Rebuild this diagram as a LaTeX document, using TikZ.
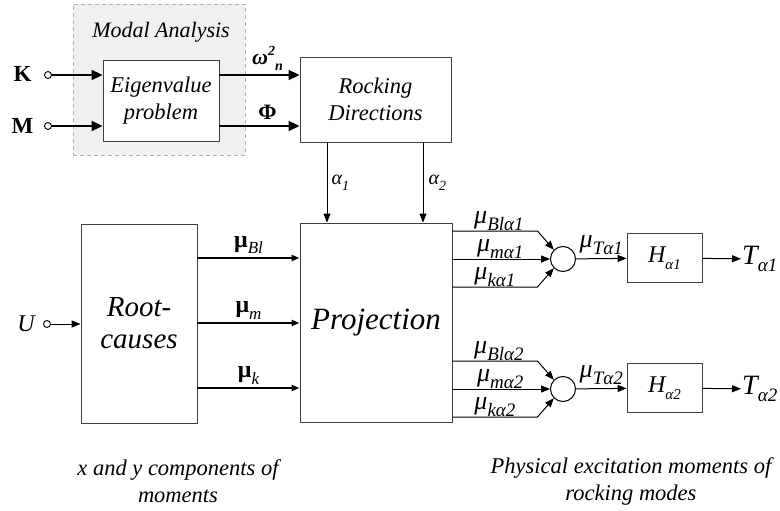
\documentclass[tikz,border=0pt]{standalone}
\usepackage{fontspec}
\setmainfont{Liberation Serif}
\usetikzlibrary{arrows.meta,calc}
\newcommand{\sbs}[2]{\raisebox{-0.28em}{\fontsize{#1}{#1}\selectfont #2}}
\newcommand{\sps}[2]{\raisebox{0.42em}{\fontsize{#1}{#1}\selectfont #2}}
\newcommand{\fs}[1]{\fontsize{#1}{#1}\selectfont}
\tikzset{
  box/.style={draw=black!75, line width=0.9pt, fill=white, align=center, inner sep=0pt},
  modalbox/.style={draw=gray!60, dashed, dash pattern=on 4pt off 3pt, line width=0.9pt, fill=gray!12, inner sep=0pt, minimum width=172pt, minimum height=151pt},
  thk/.style={line width=2pt, -{Triangle[length=11pt,width=10pt]}},
  thkb/.style={line width=2pt, -{Triangle[length=8pt,width=6pt]}},
  thn/.style={line width=1pt, -{Triangle[length=9pt,width=7pt]}},
  io/.style={circle, draw, line width=0.9pt, inner sep=0pt, minimum size=7pt, fill=white},
  sumc/.style={circle, draw, line width=1pt, inner sep=0pt, minimum size=25pt, fill=white},
  lbl/.style={inner sep=1pt},
  ttext/.style={font={\fontsize{22.5}{27}\selectfont\itshape}},
  mulbl/.style={lbl, font={\fs{26}\itshape}},
  captxt/.style={align=center, font={\fontsize{22.5}{27}\selectfont\itshape}}
}
\begin{document}
\begin{tikzpicture}[x=1pt,y=-1pt]
\useasboundingbox (0,0) rectangle (780,511);
% modal analysis group
\node[modalbox] (modal) at (159,79.5) {};
\node[lbl, font={\fontsize{22}{22}\selectfont\itshape}] (modaltitle) at (161,32) {Modal Analysis};
\node[box, ttext, minimum width=116pt, minimum height=81pt] (eig) at (161,100.5) {Eigenvalue\\problem};
\node[box, ttext, minimum width=151pt, minimum height=85pt] (rock) at (375.5,99.5) {Rocking\\Directions};
% main blocks
\node[box, font={\fontsize{29}{32}\selectfont\itshape}, minimum width=116pt, minimum height=199pt] (root) at (139,323.5) {Root-\\causes};
\node[box, font={\fontsize{31}{31}\selectfont\itshape}, minimum width=152pt, minimum height=199pt] (proj) at (376,322.5) {Projection};
\node[sumc] (s1) at (563,259) {};
\node[sumc] (s2) at (563,389) {};
\node[box, font={\fs{24}\itshape}, minimum width=75pt, minimum height=49pt] (h1) at (664.5,258) {H\sbs{15}{α1}};
\node[box, font={\fs{24}\itshape}, minimum width=75pt, minimum height=49pt] (h2) at (664.5,388) {H\sbs{15}{α2}};
\node[lbl, anchor=west, font={\fs{28}\itshape}] (t1) at (741,259) {T\sbs{19}{α1}};
\node[lbl, anchor=west, font={\fs{28}\itshape}] (t2) at (741,389) {T\sbs{19}{α2}};
% inputs
\node[io] (kin) at (48,75) {};
\node[lbl, font={\fs{23}\bfseries}] (k) at (22.5,74) {K};
\node[io] (min) at (48,126) {};
\node[lbl, font={\fs{23}\bfseries}] (m) at (22.5,126) {M};
\node[io] (uin) at (47,324) {};
\node[lbl, font={\fs{24}\itshape}] (u) at (26,324) {U};
% connectors: modal analysis
\draw[thk] (kin) -- (kin -| eig.west);
\draw[thk] (min) -- (min -| eig.west);
\draw[thk] (eig.east |- kin) -- node[lbl, above=2pt, xshift=8pt, font={\fs{22}\bfseries\itshape}] {ω\sps{14}{2}\sbs{14}{n}} (rock.west |- kin);
\draw[thk] (eig.east |- min) -- node[lbl, above=4pt, xshift=8pt, font={\fs{22}\bfseries}] {Φ} (rock.west |- min);
% rocking directions
\coordinate (a1) at (327,0);
\coordinate (a2) at (423,0);
\draw[thn] (rock.south -| a1) -- node[lbl, right=3pt, font={\fs{20}\itshape}] {α\sbs{14}{1}} (proj.north -| a1);
\draw[thn] (rock.south -| a2) -- node[lbl, right=4pt, font={\fs{20}\itshape}] {α\sbs{14}{2}} (proj.north -| a2);
% root causes
\draw[thn] (uin) -- (uin -| root.west);
\coordinate (yb) at (0,258);
\coordinate (ym) at (0,323);
\coordinate (yk) at (0,388);
\draw[thkb] (root.east |- yb) -- node[lbl, above=2pt, font={\fs{24}\bfseries}] {μ\sbs{17}{\mdseries\itshape Bl}} (proj.west |- yb);
\draw[thkb] (root.east |- ym) -- node[lbl, above=2pt, font={\fs{24}\bfseries}] {μ\sbs{17}{\mdseries\itshape m}} (proj.west |- ym);
\draw[thkb] (root.east |- yk) -- node[lbl, above=2pt, font={\fs{24}\bfseries}] {μ\sbs{17}{\mdseries\itshape k}} (proj.west |- yk);
% projection outputs, mode 1
\draw[thn] (proj.east |- s1) ++(0,-28) -- node[mulbl, above=-1pt, xshift=4pt] {μ\sbs{19}{Blα1}} ++(85,0) -- (s1.135);
\draw[thn] (proj.east |- s1) -- node[mulbl, above=-1pt, xshift=-1pt] {μ\sbs{19}{mα1}} (s1);
\draw[thn] (proj.east |- s1) ++(0,28) -- node[mulbl, above=-1pt] {μ\sbs{19}{kα1}} ++(85,0) -- (s1.225);
\draw[thn] (s1) -- node[mulbl, above=2pt] {μ\sbs{19}{Tα1}} (h1);
\draw[thn] (h1) -- (t1);
% projection outputs, mode 2
\draw[thn] (proj.east |- s2) ++(0,-28) -- node[mulbl, above=-1pt, xshift=4pt] {μ\sbs{19}{Blα2}} ++(85,0) -- (s2.135);
\draw[thn] (proj.east |- s2) -- node[mulbl, above=-1pt, xshift=-1pt] {μ\sbs{19}{mα2}} (s2);
\draw[thn] (proj.east |- s2) ++(0,28) -- node[mulbl, above=-1pt] {μ\sbs{19}{kα2}} ++(85,0) -- (s2.225);
\draw[thn] (s2) -- node[mulbl, above=2pt] {μ\sbs{19}{Tα2}} (h2);
\draw[thn] (h2) -- (t2);
% captions
\node[captxt] (capL) at (178,481) {x and y components of\\moments};
\node[captxt] (capR) at (631,481) {Physical excitation moments of\\rocking modes};
\end{tikzpicture}
\end{document}
